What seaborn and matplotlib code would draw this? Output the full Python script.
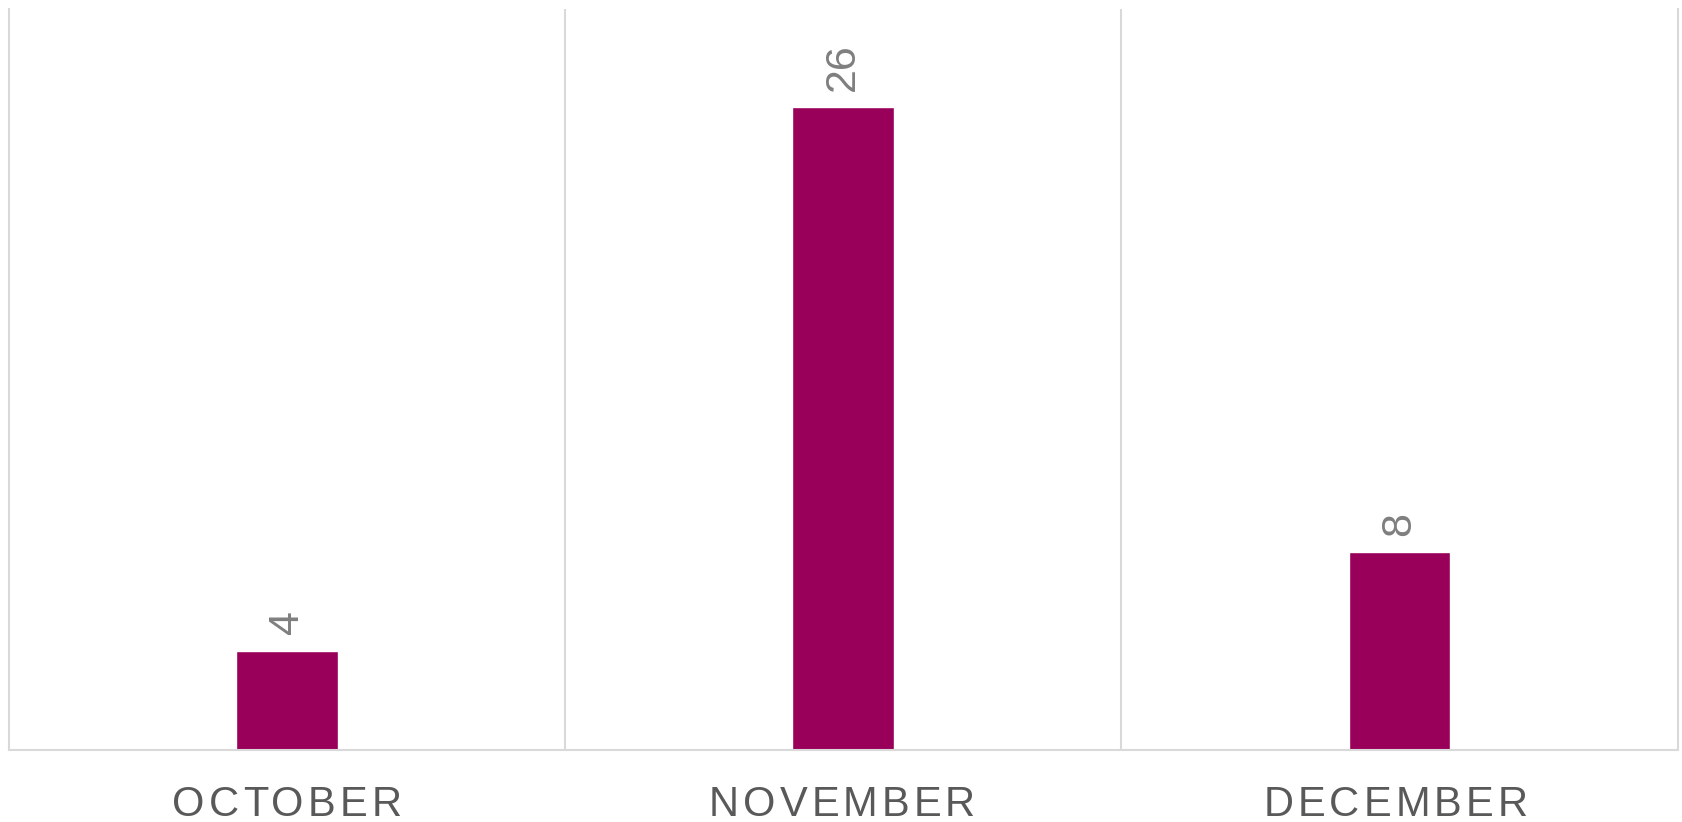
import numpy as np
import matplotlib
matplotlib.use("Agg")
import matplotlib.pyplot as plt
import matplotlib.transforms as mtransforms
import seaborn as sns
import pandas as pd

# ----------------- Data -----------------
months = ["OCTOBER", "NOVEMBER", "DECEMBER"]
counts = [4, 26, 8]

bar_color = "#98005A"
grid_color = "#D9D9D9"

sns.set_theme(style="white")
plt.rcParams["font.family"] = ["Liberation Sans", "DejaVu Sans"]

df = pd.DataFrame({"month": months, "count": counts})

fig = plt.figure(figsize=(16.83, 8.22), dpi=100)
ax = fig.add_axes([0.0051, 0.0876, 0.9917, 0.9019])

sns.barplot(data=df, x="month", y="count", color=bar_color, width=0.183,
            saturation=1, ax=ax)

ax.set_xlim(-0.5, len(months) - 0.5)
ax.set_ylim(0, 30)
ax.set_xlabel("")
ax.set_ylabel("")
ax.set_yticks([])
ax.set_xticklabels([])
ax.tick_params(axis="x", length=0)

# separators between categories
for b in np.arange(0.5, len(months) - 0.5, 1):
    ax.axvline(b, color=grid_color, lw=1.5, zorder=0)

for side in ["left", "right", "bottom"]:
    ax.spines[side].set_color(grid_color)
    ax.spines[side].set_linewidth(1.5)
ax.spines["top"].set_visible(False)

# letter-spaced category labels (drawn letter by letter)
renderer = fig.canvas.get_renderer()
label_size = 30
spacing = 4.0          # extra px between letters
shifts = [0, -1, -4]
base = mtransforms.blended_transform_factory(ax.transData, ax.transAxes)


def text_width(s):
    t = fig.text(0, 0, s, fontsize=label_size)
    w = t.get_window_extent(renderer).width
    t.remove()
    return w


for i, (m, dx) in enumerate(zip(months, shifts)):
    total = text_width(m) + spacing * (len(m) - 1)
    x0 = dx - total / 2
    for k, ch in enumerate(m):
        natural = text_width(m[:k + 1]) - text_width(ch)
        off = x0 + natural + spacing * k
        tr = base + mtransforms.ScaledTranslation(off / 100, -0.66, fig.dpi_scale_trans)
        ax.text(i, 0, ch, transform=tr, ha="left", va="baseline",
                fontsize=label_size, color="#595959", clip_on=False)

# value labels
for i, v in enumerate(counts):
    ax.annotate(str(v), xy=(i, v), xytext=(0, 12), textcoords="offset points",
                rotation=90, ha="center", va="bottom", fontsize=31,
                color="#7F7F7F")

plt.savefig("out.png", dpi=100)
plt.close()
